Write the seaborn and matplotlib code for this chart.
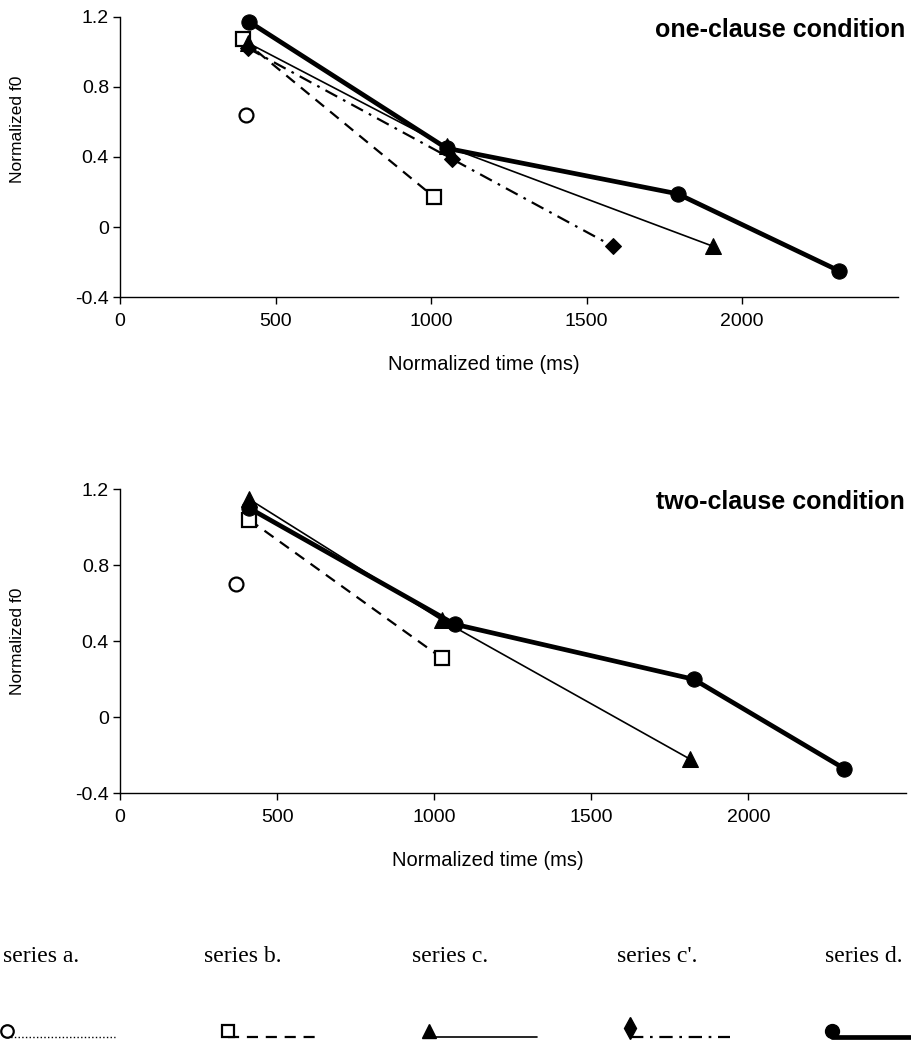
import numpy as np
import pandas as pd
import matplotlib
matplotlib.use("Agg")
import matplotlib.pyplot as plt
import seaborn as sns

# ---------------- data ----------------
series_names = ["a", "b", "c", "c'", "d"]
legend_labels = ["series a.", "series b.", "series c.", "series c'.", "series d."]
conditions = ["one-clause condition", "two-clause condition"]

# one-clause condition
one_a_time = [404];                     one_a_f0 = [0.64]
one_b_time = [394, 1011];               one_b_f0 = [1.07, 0.17]
one_c_time = [412, 1050, 1908];         one_c_f0 = [1.05, 0.46, -0.11]
one_cp_time = [412, 1066, 1586];        one_cp_f0 = [1.02, 0.39, -0.11]
one_d_time = [416, 1050, 1793, 2313];   one_d_f0 = [1.17, 0.45, 0.19, -0.25]

# two-clause condition
two_a_time = [370];                     two_a_f0 = [0.70]
two_b_time = [411, 1026];               two_b_f0 = [1.04, 0.31]
two_c_time = [409, 1026, 1814];         two_c_f0 = [1.15, 0.51, -0.22]
two_d_time = [412, 1065, 1826, 2305];   two_d_f0 = [1.10, 0.49, 0.20, -0.27]

x_ticks = [0, 500, 1000, 1500, 2000]
y_ticks = [-0.4, 0, 0.4, 0.8, 1.2]
y_tick_labels = ["-0.4", "0", "0.4", "0.8", "1.2"]

rows = []
def add(cond, ser, t, f):
    for i, (tt, ff) in enumerate(zip(t, f)):
        rows.append(dict(condition=cond, series=ser, order=i, time=tt, f0=ff))

add(conditions[0], "a", one_a_time, one_a_f0)
add(conditions[0], "b", one_b_time, one_b_f0)
add(conditions[0], "c'", one_cp_time, one_cp_f0)
add(conditions[0], "c", one_c_time, one_c_f0)
add(conditions[0], "d", one_d_time, one_d_f0)
add(conditions[1], "a", two_a_time, two_a_f0)
add(conditions[1], "b", two_b_time, two_b_f0)
add(conditions[1], "c", two_c_time, two_c_f0)
add(conditions[1], "d", two_d_time, two_d_f0)
df = pd.DataFrame(rows)

# ---------------- styles ----------------
styles = {
    "a":  dict(marker="o", markersize=10, markerfacecolor="white", markeredgecolor="black",
               markeredgewidth=1.6, linestyle=":", linewidth=1.0),
    "b":  dict(marker="s", markersize=10, markerfacecolor="white", markeredgecolor="black",
               markeredgewidth=1.6, linestyle=(0, (5, 3.5)), linewidth=1.6),
    "c":  dict(marker="^", markersize=11, markerfacecolor="black", markeredgecolor="black",
               linestyle="-", linewidth=1.2),
    "c'": dict(marker="D", markersize=8, markerfacecolor="black", markeredgecolor="black",
               linestyle=(0, (6, 3, 1.2, 3)), linewidth=1.6),
    "d":  dict(marker="o", markersize=11, markerfacecolor="black", markeredgecolor="black",
               linestyle="-", linewidth=3.4),
}
legend_marker = {"a": ("o", 9), "b": ("s", 9), "c": ("^", 10), "c'": ("d", 11), "d": ("o", 10)}

sns.set_style("ticks")
plt.rcParams["font.family"] = ["Liberation Sans", "DejaVu Sans"]
plt.rcParams["axes.unicode_minus"] = False
for key in ["text.color", "axes.labelcolor", "xtick.color", "ytick.color", "axes.edgecolor"]:
    plt.rcParams[key] = "black"

W, H = 911, 1042
fig = plt.figure(figsize=(W / 100, H / 100), dpi=100)

axes_px = [  # left, top, right, bottom in pixels
    (120, 16.7, 897.5, 297.3),
    (120, 489.3, 905.5, 793.3),
]
title_y_px = [30, 502]
ylabel_pos = [0.60, 0.5]

for k, cond in enumerate(conditions):
    l, t, r, b = axes_px[k]
    ax = fig.add_axes([l / W, 1 - b / H, (r - l) / W, (b - t) / H])
    sub = df[df.condition == cond]
    for ser in ["a", "b", "c'", "c", "d"]:
        s = sub[sub.series == ser].sort_values("order")
        if s.empty:
            continue
        sns.lineplot(data=s, x="time", y="f0", ax=ax, color="black", sort=False,
                     estimator=None, legend=False, clip_on=False, **styles[ser])
    ax.set_xlim(0, 2500)
    ax.set_ylim(-0.4, 1.2)
    ax.set_xticks(x_ticks)
    ax.set_xticklabels([str(v) for v in x_ticks], fontsize=14)
    ax.set_yticks(y_ticks)
    ax.set_yticklabels(y_tick_labels, fontsize=14)
    sns.despine(ax=ax)
    for sp in ["left", "bottom"]:
        ax.spines[sp].set_linewidth(1.0)
        ax.spines[sp].set_color("black")
    ax.tick_params(direction="out", length=5, width=1, color="black", labelcolor="black")
    ax.tick_params(axis="x", pad=6)
    ax.tick_params(axis="y", pad=3)
    ax.set_xlabel("Normalized time (ms)", fontsize=14.5, color="black")
    ax.set_ylabel("Normalized f0", fontsize=12.5, color="black")
    ax.xaxis.set_label_coords(0.468, -58 / (b - t))
    ax.yaxis.set_label_coords(-95 / (r - l), ylabel_pos[k])
    fig.text(905 / W, 1 - title_y_px[k] / H, cond, ha="right", va="center",
             fontsize=18, fontweight="bold", color="black")

# ---------------- legend (custom layout) ----------------
lax = fig.add_axes([0, 0, 1, 142 / H])
lax.set_xlim(0, W)
lax.set_ylim(H, H - 142)
lax.axis("off")
text_cx = [41, 243, 450, 657, 864]
marker_x = [7, 228, 429, 630, 832]
line_end = [115, 322, 537, 730, 915]
text_y, line_y = 957, 1037
marker_dy = {"a": 6, "b": 6, "c": 6, "c'": 9, "d": 6}
for i, ser in enumerate(series_names):
    st = dict(styles[ser])
    m, ms = legend_marker[ser]
    lax.text(text_cx[i], text_y, legend_labels[i], ha="center", va="center",
             fontsize=17, color="black", family=["Liberation Serif", "DejaVu Serif"])
    lax.plot([marker_x[i], line_end[i]], [line_y, line_y], color="black",
             linestyle=st["linestyle"], linewidth=st["linewidth"], clip_on=False)
    lax.plot([marker_x[i]], [line_y - marker_dy[ser]], color="black", linestyle="none",
             marker=m, markersize=ms,
             markerfacecolor=st["markerfacecolor"], markeredgecolor=st["markeredgecolor"],
             markeredgewidth=st.get("markeredgewidth", 1.0), clip_on=False)

fig.savefig("out.png", dpi=100)
